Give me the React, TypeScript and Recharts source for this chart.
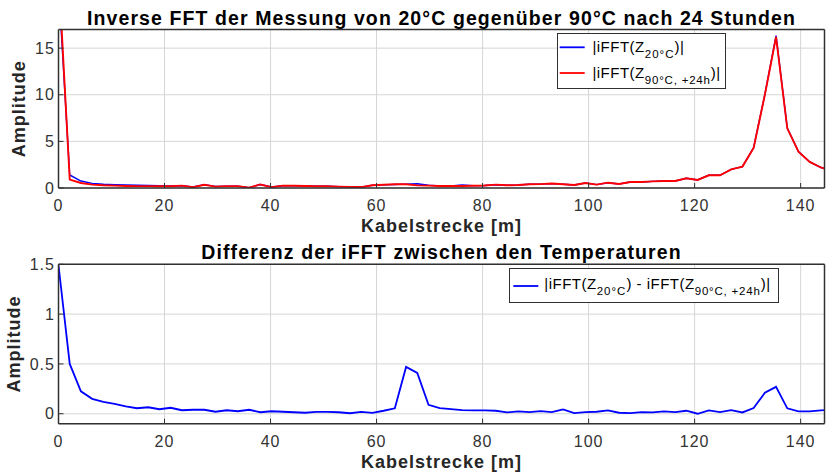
import React from 'react';
import { LineChart, Line, XAxis, YAxis, CartesianGrid, Legend, Label } from 'recharts';

// cable distance [m] of each iFFT sample
const distance = [
  0, 2.12, 4.23, 6.35, 8.46, 10.58, 12.69, 14.81, 16.92, 19.04,
  21.15, 23.27, 25.38, 27.5, 29.61, 31.73, 33.84, 35.96, 38.07, 40.19,
  42.3, 44.42, 46.53, 48.65, 50.76, 52.88, 54.99, 57.11, 59.22, 61.34,
  63.45, 65.57, 67.68, 69.8, 71.91, 74.03, 76.14, 78.26, 80.37, 82.49,
  84.6, 86.72, 88.83, 90.95, 93.06, 95.18, 97.29, 99.41, 101.52, 103.64,
  105.75, 107.87, 109.98, 112.1, 114.21, 116.33, 118.44, 120.56, 122.67, 124.79,
  126.9, 129.02, 131.13, 133.25, 135.36, 137.48, 139.59, 141.71, 143.82, 145.94,
];

// |iFFT(Z_20°C)|
const amp20 = [
  21.8, 1.4, 0.75, 0.5, 0.4, 0.35, 0.32, 0.3, 0.27, 0.25,
  0.22, 0.24, 0.12, 0.36, 0.16, 0.2, 0.2, 0.04, 0.37, 0.11,
  0.24, 0.23, 0.21, 0.18, 0.19, 0.15, 0.12, 0.1, 0.29, 0.34,
  0.38, 0.42, 0.46, 0.3, 0.23, 0.22, 0.32, 0.25, 0.27, 0.35,
  0.3, 0.32, 0.4, 0.42, 0.47, 0.4, 0.32, 0.54, 0.36, 0.57,
  0.43, 0.64, 0.64, 0.71, 0.75, 0.75, 1.04, 0.86, 1.36, 1.36,
  2.0, 2.3, 4.32, 10.05, 16.35, 6.42, 3.9, 2.8, 2.2, 1.8,
];

// |iFFT(Z_90°C, +24h)|
const amp90 = [
  23.3, 0.9, 0.54, 0.36, 0.29, 0.25, 0.22, 0.2, 0.2, 0.18,
  0.18, 0.25, 0.08, 0.35, 0.15, 0.2, 0.2, 0.03, 0.38, 0.1,
  0.25, 0.24, 0.22, 0.18, 0.2, 0.15, 0.12, 0.1, 0.3, 0.35,
  0.4, 0.4, 0.28, 0.25, 0.22, 0.22, 0.22, 0.24, 0.27, 0.36,
  0.3, 0.32, 0.4, 0.42, 0.48, 0.4, 0.32, 0.54, 0.36, 0.57,
  0.43, 0.64, 0.64, 0.71, 0.75, 0.75, 1.04, 0.86, 1.36, 1.36,
  2.0, 2.3, 4.3, 10.0, 16.2, 6.4, 3.9, 2.8, 2.2, 1.8,
];

// |iFFT(Z_20°C) - iFFT(Z_90°C, +24h)|
const ampDiff = [
  1.49, 0.5, 0.225, 0.15, 0.12, 0.1, 0.075, 0.055, 0.065, 0.045,
  0.06, 0.035, 0.04, 0.04, 0.02, 0.035, 0.025, 0.04, 0.015, 0.025,
  0.02, 0.015, 0.01, 0.018, 0.018, 0.015, 0.005, 0.018, 0.008, 0.03,
  0.055, 0.47, 0.41, 0.09, 0.057, 0.047, 0.037, 0.034, 0.034, 0.03,
  0.013, 0.023, 0.017, 0.027, 0.017, 0.044, 0.007, 0.017, 0.02, 0.034,
  0.01, 0.007, 0.017, 0.013, 0.023, 0.017, 0.03, 0.0, 0.034, 0.017,
  0.037, 0.013, 0.057, 0.21, 0.27, 0.054, 0.023, 0.023, 0.034, 0.04,
];

const xTicks = [0, 20, 40, 60, 80, 100, 120, 140];
const yTicksTop = [0, 5, 10, 15];
const yTicksDiff = [0, 0.5, 1, 1.5];

const topData = distance.map((d, i) => ({ d, a20: amp20[i], a90: amp90[i] }));
const diffData = distance.map((d, i) => ({ d, diff: ampDiff[i] }));

const FONT = '"Liberation Sans", Arial, Helvetica, sans-serif';
const AXIS = '#303030';
const GRID = '#d6d6d6';
const X_MAX = 144.5;
const W = 827;
const H = 236;

const tickStyle = { fontSize: 16, fill: '#333', letterSpacing: 1 };
const labelStyle = { fontSize: 18, fontWeight: 'bold', fill: '#262626', letterSpacing: 1 };
const titleStyle = { fontSize: 19.5, fontWeight: 'bold', fill: '#000', letterSpacing: 1.1 };
const axisLine = { stroke: AXIS, strokeWidth: 1.5 };

const ampLabel = (baseX: number) => (props: any) => {
  const vb = props.viewBox;
  const x = vb.x + baseX;
  const y = vb.y + vb.height / 2;
  return (
    <text x={x} y={y} transform={`rotate(-90, ${x}, ${y})`} textAnchor="middle" {...labelStyle}>
      Amplitude
    </text>
  );
};

// MATLAB-like box: ticks inside on all four sides
const frame = (yDomain: number[], yTicks: number[], title: string, yLabelX: number, xHeight: number) => [
  <XAxis key="xb" dataKey="d" type="number" domain={[0, X_MAX]} ticks={xTicks} interval={0}
    allowDataOverflow height={xHeight} tickSize={-5} tickMargin={17} stroke={AXIS}
    axisLine={axisLine} tick={tickStyle}>
    <Label value="Kabelstrecke [m]" position="insideBottom" offset={4} {...labelStyle} />
  </XAxis>,
  <XAxis key="xt" xAxisId="t" orientation="top" dataKey="d" type="number" domain={[0, X_MAX]}
    ticks={xTicks} interval={0} allowDataOverflow height={1} tickSize={-5} stroke={AXIS}
    axisLine={axisLine} tick={false}>
    <Label value={title} position="top" offset={4} {...titleStyle} />
  </XAxis>,
  <YAxis key="yl" type="number" domain={yDomain} ticks={yTicks} interval={0} allowDataOverflow
    width={58.5} tickSize={-5} tickMargin={8.6} stroke={AXIS} axisLine={axisLine} tick={tickStyle}
    label={{ content: ampLabel(yLabelX) }} />,
  <YAxis key="yr" yAxisId="r" orientation="right" type="number" domain={yDomain} ticks={yTicks}
    interval={0} allowDataOverflow width={1} tickSize={-5} stroke={AXIS} axisLine={axisLine} tick={false} />,
];

const TopLegend = () => (
  <svg width={169} height={56} style={{ display: 'block' }}>
    <rect x={0.5} y={0.5} width={168} height={55} fill="#fff" stroke={AXIS} />
    <line x1={2.7} x2={27.7} y1={14.3} y2={14.3} stroke="#0000ff" strokeWidth={1.8} />
    <text x={35.4} y={19} fontSize={15} letterSpacing={0.5} fill="#000">
      |iFFT(Z<tspan dy={6} fontSize={11.5} letterSpacing={1}>20°C</tspan><tspan dy={-6}>)|</tspan>
    </text>
    <line x1={2.7} x2={27.7} y1={40} y2={40} stroke="#ff0000" strokeWidth={1.8} />
    <text x={35.4} y={45} fontSize={15} letterSpacing={0.5} fill="#000">
      |iFFT(Z<tspan dy={6} fontSize={11.5} letterSpacing={0.8}>90°C, +24h</tspan><tspan dy={-6}>)|</tspan>
    </text>
  </svg>
);

const DiffLegend = () => (
  <svg width={270} height={35} style={{ display: 'block' }}>
    <rect x={0.5} y={0.5} width={269} height={34} fill="#fff" stroke={AXIS} />
    <line x1={4.3} x2={29.3} y1={18} y2={18} stroke="#0000ff" strokeWidth={1.8} />
    <text x={35.3} y={20.7} fontSize={15} letterSpacing={0.5} fill="#000">
      |iFFT(Z<tspan dy={6.6} fontSize={11.5} letterSpacing={1}>20°C</tspan><tspan dy={-6.6}>) - iFFT(Z</tspan><tspan dy={6.6} fontSize={11.5} letterSpacing={0.8}>90°C, +24h</tspan><tspan dy={-6.6}>)|</tspan>
    </text>
  </svg>
);

export default function App() {
  return (
    <div style={{ position: 'absolute', left: 0, top: 0, width: W, height: 472, background: '#fff', fontFamily: FONT }}>
      <div style={{ position: 'absolute', left: 0, top: 0 }}>
        <LineChart width={W} height={H} data={topData} margin={{ top: 28.5, right: 1.5, bottom: 0, left: 0 }}>
          <CartesianGrid stroke={GRID} />
          {frame([0, 17], yTicksTop, 'Inverse FFT der Messung von 20°C gegenüber 90°C nach 24 Stunden', 24.5, 48)}
          <Legend layout="vertical" align="center" verticalAlign="middle"
            wrapperStyle={{ left: 557.3, top: 33, width: 169, height: 56 }} content={() => <TopLegend />} />
          <Line dataKey="a20" stroke="#0000ff" strokeWidth={1.4} dot={false} isAnimationActive={false} />
          <Line dataKey="a90" stroke="#ff0000" strokeWidth={1.9} dot={false} isAnimationActive={false} />
        </LineChart>
      </div>
      <div style={{ position: 'absolute', left: 0, top: H }}>
        <LineChart width={W} height={H} data={diffData} margin={{ top: 27.3, right: 1.5, bottom: 0, left: 0 }}>
          <CartesianGrid stroke={GRID} />
          {frame([-0.1, 1.5], yTicksDiff, 'Differenz der iFFT zwischen den Temperaturen', 19.5, 48.3)}
          <Legend layout="vertical" align="center" verticalAlign="middle"
            wrapperStyle={{ left: 509, top: 32, width: 270, height: 35 }} content={() => <DiffLegend />} />
          <Line dataKey="diff" stroke="#0000ff" strokeWidth={1.8} dot={false} isAnimationActive={false} />
        </LineChart>
      </div>
    </div>
  );
}
